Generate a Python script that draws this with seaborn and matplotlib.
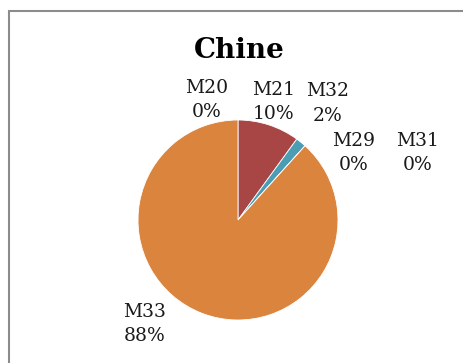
import matplotlib
matplotlib.use("Agg")
import matplotlib.pyplot as plt
import seaborn as sns
from matplotlib.patches import Rectangle

sns.set_theme(style="white")
plt.rcParams['font.family'] = ['DejaVu Serif']

categories = ["M20", "M21", "M32", "M29", "M31", "M33"]
values = [0.0, 10.0, 1.7, 0.0, 0.0, 88.3]
pct_labels = ["0%", "10%", "2%", "0%", "0%", "88%"]
colors = ["#4F81BD", "#A84646", "#4A9DB5", "#8064A2", "#9BBB59", "#DB843D"]
# label anchor positions (data units, radius = 1)
label_pos = [(-0.31, 1.20), (0.355, 1.18), (0.90, 1.165),
             (1.16, 0.67), (1.80, 0.67), (-0.93, -1.04)]

W, H = 463, 363
fig = plt.figure(figsize=(W / 100, H / 100), dpi=100)
fig.patch.set_facecolor("white")

cx, cy, r = 238, 220, 100
ax = fig.add_axes([(cx - r) / W, (H - cy - r) / H, 2 * r / W, 2 * r / H])
ax.pie(values, colors=colors, startangle=90, counterclock=False, radius=1,
       wedgeprops=dict(edgecolor="white", linewidth=0.6))
ax.set_xlim(-1, 1)
ax.set_ylim(-1, 1)
ax.set_aspect("auto")
ax.axis("off")

for cat, pct, (x, y) in zip(categories, pct_labels, label_pos):
    ax.text(x, y, f"{cat}\n{pct}", ha="center", va="center", fontsize=13.5,
            color="#1a1a1a", linespacing=1.45, clip_on=False)

fig.text(239 / W, 1 - 51 / H, "Chine", ha="center", va="center",
         fontsize=20, fontweight="bold", color="black")

# outer chart frame (cropped on right/bottom)
fig.patches.append(Rectangle((8.5 / W, -0.1), 1.2, 1 - 10.5 / H + 0.1,
                             transform=fig.transFigure, fill=False,
                             edgecolor="#8C8C8C", linewidth=1.5))

fig.savefig("out.png", dpi=100, facecolor="white")
